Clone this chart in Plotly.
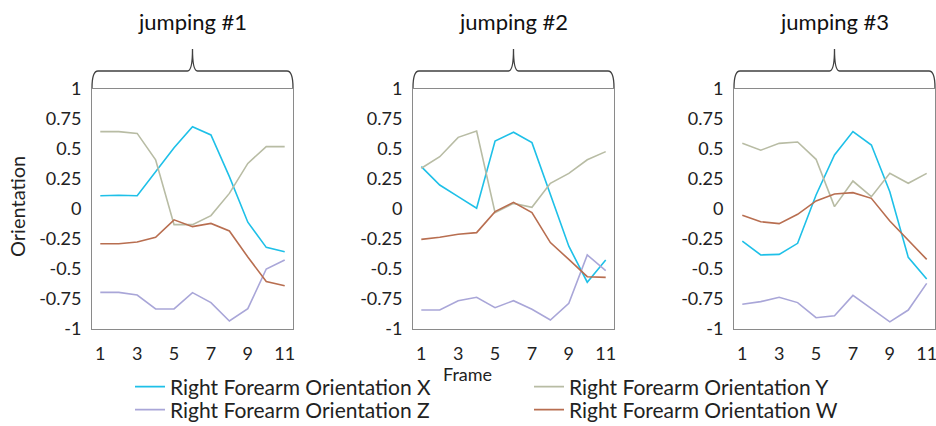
import plotly.graph_objects as go

frames = list(range(1, 12))
panel_titles = ["jumping #1", "jumping #2", "jumping #3"]
series_names = ["Right Forearm Orientation X", "Right Forearm Orientation Y",
                "Right Forearm Orientation Z", "Right Forearm Orientation W"]
series_colors = ["#1EC0E8", "#B8BCA4", "#A9A6D8", "#B86E50"]
y_ticks = [1, 0.75, 0.5, 0.25, 0, -0.25, -0.5, -0.75, -1]
y_tick_text = ["1", "0.75", "0.5", "0.25", "0", "-0.25", "-0.5", "-0.75", "-1"]
x_ticks = [1, 3, 5, 7, 9, 11]

# jumping #1
j1_x = [0.11, 0.115, 0.11, 0.31, 0.51, 0.686, 0.617, 0.27, -0.11, -0.32, -0.356]
j1_y = [0.645, 0.645, 0.63, 0.41, -0.13, -0.13, -0.055, 0.13, 0.38, 0.52, 0.52]
j1_z = [-0.695, -0.695, -0.717, -0.833, -0.833, -0.697, -0.78, -0.933, -0.83, -0.5, -0.425]
j1_w = [-0.29, -0.29, -0.275, -0.236, -0.09, -0.147, -0.12, -0.183, -0.4, -0.605, -0.64]

# jumping #2
j2_x = [0.353, 0.2, 0.103, 0.006, 0.567, 0.64, 0.553, 0.13, -0.31, -0.61, -0.425]
j2_y = [0.34, 0.436, 0.597, 0.65, -0.03, 0.047, 0.014, 0.214, 0.297, 0.41, 0.478]
j2_z = [-0.842, -0.842, -0.764, -0.736, -0.822, -0.764, -0.836, -0.925, -0.786, -0.383, -0.514]
j2_w = [-0.253, -0.236, -0.21, -0.197, -0.022, 0.055, -0.03, -0.28, -0.42, -0.564, -0.57]

# jumping #3
j3_x = [-0.267, -0.383, -0.378, -0.286, 0.117, 0.45, 0.645, 0.533, 0.144, -0.403, -0.583]
j3_y = [0.547, 0.49, 0.547, 0.558, 0.414, 0.02, 0.233, 0.103, 0.297, 0.214, 0.297]
j3_z = [-0.794, -0.772, -0.736, -0.78, -0.906, -0.89, -0.72, -0.83, -0.94, -0.842, -0.62]
j3_w = [-0.053, -0.106, -0.122, -0.044, 0.067, 0.125, 0.136, 0.089, -0.1, -0.258, -0.42]

panels = [[j1_x, j1_y, j1_z, j1_w], [j2_x, j2_y, j2_z, j2_w], [j3_x, j3_y, j3_z, j3_w]]

W, H = 936, 426
FONT = "Lato"
TXT = "#222222"

def px(x):
    return x / W

def py(y):
    return 1 - y / H

# panel frame pixel positions (left, right), shared top/bottom
panel_px = [(92, 293), (413, 614), (734, 935)]
top_px, bot_px = 89, 329

# legend slot for each series: (text-start x, row centre y)
legend_slots = [(172, 387), (571, 387), (172, 410), (571, 410)]
legend_ids = ["legend", "legend2", "legend3", "legend4"]

fig = go.Figure()
for i, data in enumerate(panels):
    suffix = "" if i == 0 else str(i + 1)
    for j, vals in enumerate(data):
        fig.add_trace(go.Scatter(
            x=frames, y=vals, mode="lines",
            name=series_names[j],
            line=dict(color=series_colors[j], width=1.6),
            xaxis="x" + suffix, yaxis="y" + suffix,
            showlegend=(i == 0), legend=legend_ids[j],
        ))

layout = dict(
    width=W, height=H,
    margin=dict(l=0, r=0, t=0, b=0, autoexpand=False),
    paper_bgcolor="white", plot_bgcolor="white",
    font=dict(family=FONT, color=TXT),
    showlegend=True,
)

for j, lid in enumerate(legend_ids):
    tx, ty = legend_slots[j]
    layout[lid] = dict(
        orientation="v", x=px(tx - 42), y=py(ty), xanchor="left", yanchor="middle",
        font=dict(size=21, family=FONT, color=TXT),
        itemwidth=30, bgcolor="rgba(0,0,0,0)", borderwidth=0,
    )

for i, (l, r) in enumerate(panel_px):
    suffix = "" if i == 0 else str(i + 1)
    layout["xaxis" + suffix] = dict(
        domain=[px(l), px(r)], range=[0.55, 11.45],
        tickmode="array", tickvals=x_ticks, ticktext=[str(t) for t in x_ticks],
        showgrid=False, zeroline=False,
        showline=True, linecolor="#8a8a8a", linewidth=1, mirror=True,
        ticks="", tickfont=dict(size=18, family=FONT, color=TXT),
        ticklabelstandoff=8, ticklabeloverflow="allow",
        anchor="y" + suffix, fixedrange=True,
    )
    layout["yaxis" + suffix] = dict(
        domain=[py(bot_px), py(top_px)], range=[-1, 1],
        tickmode="array", tickvals=y_ticks, ticktext=y_tick_text,
        showgrid=False, zeroline=False,
        showline=True, linecolor="#8a8a8a", linewidth=1, mirror=True,
        ticks="", ticklabelstandoff=6, ticklabeloverflow="allow",
        tickfont=dict(size=18, family=FONT, color=TXT),
        anchor="x" + suffix, fixedrange=True,
    )

fig.update_layout(**layout)

shapes = []
annotations = []
for i, (l, r) in enumerate(panel_px):
    c = (l + r) / 2
    yb, yh, yt = 88, 71, 49
    path = (f"M {px(l)},{py(yb)} Q {px(l)},{py(yh)} {px(l+6)},{py(yh)} "
            f"L {px(c-5)},{py(yh)} Q {px(c)},{py(yh)} {px(c)},{py(yt)} "
            f"Q {px(c)},{py(yh)} {px(c+5)},{py(yh)} "
            f"L {px(r-6)},{py(yh)} Q {px(r)},{py(yh)} {px(r)},{py(yb)}")
    shapes.append(dict(type="path", path=path, xref="paper", yref="paper",
                       line=dict(color="#404040", width=1.3)))
    annotations.append(dict(text=panel_titles[i], x=px(c), y=py(21), xref="paper", yref="paper",
                            showarrow=False, xanchor="center", yanchor="middle",
                            font=dict(size=22, family=FONT, color="#111111")))

annotations.append(dict(text="Orientation", x=px(17), y=py(207), xref="paper", yref="paper",
                        showarrow=False, textangle=-90, xanchor="center", yanchor="middle",
                        font=dict(size=20, family=FONT, color=TXT)))
annotations.append(dict(text="Frame", x=px(467), y=py(374), xref="paper", yref="paper",
                        showarrow=False, xanchor="center", yanchor="middle",
                        font=dict(size=18, family=FONT, color=TXT)))

fig.update_layout(shapes=shapes, annotations=annotations)
fig.write_html("out.html", config={"displayModeBar": False},
               post_script="document.body.style.margin='0';document.body.style.overflow='hidden';")
